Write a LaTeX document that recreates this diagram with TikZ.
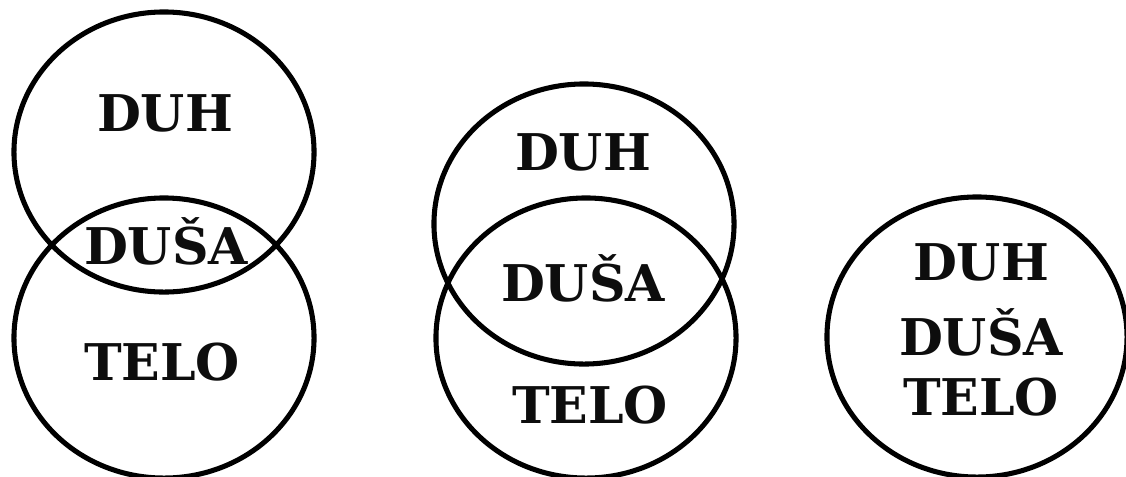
\documentclass[tikz,border=0pt]{standalone}
\usepackage{fontspec}
\setmainfont{DejaVu Serif}
\usepackage{tikz}
\usetikzlibrary{shapes.geometric}

\tikzset{
    ring/.style={draw, ellipse, line width=3.6pt, minimum width=7.5cm, minimum height=7.0cm, inner sep=0pt},
    word/.style={font=\fontsize{36}{36}\selectfont\bfseries, text=black!95, inner sep=0pt}
}

\begin{document}
\begin{tikzpicture}[x=0.025cm, y=-0.025cm]
        \clip (0,0) rectangle (1126,476);
        \useasboundingbox (0,0) rectangle (1126,476);

        % Left pair: circles overlapping only a little
        \node [ring] (leftTop) at (164,152) {};
        \node [ring] (leftBottom) at (164,338) {};
        \node [word] (leftDuh) at (165,113) {DUH};
        \node [word] (leftDusa) at (166,241) {DUŠA};
        \node [word] (leftTelo) at (162,362) {TELO};

        % Middle pair: circles overlapping a lot
        \node [ring] (midTop) at (584,224) {};
        \node [ring] (midBottom) at (586,338) {};
        \node [word] (midDuh) at (583,152) {DUH};
        \node [word] (midDusa) at (583,278) {DUŠA};
        \node [word] (midTelo) at (590,405) {TELO};

        % Right: one circle holding all three
        \node [ring] (oneCircle) at (977,337) {};
        \foreach \name/\y/\text in {Duh/262/DUH, Dusa/332/DUŠA, Telo/397/TELO} {
            \node [word] (one\name) at (981,\y) {\text};
        }
    \end{tikzpicture}
\end{document}
